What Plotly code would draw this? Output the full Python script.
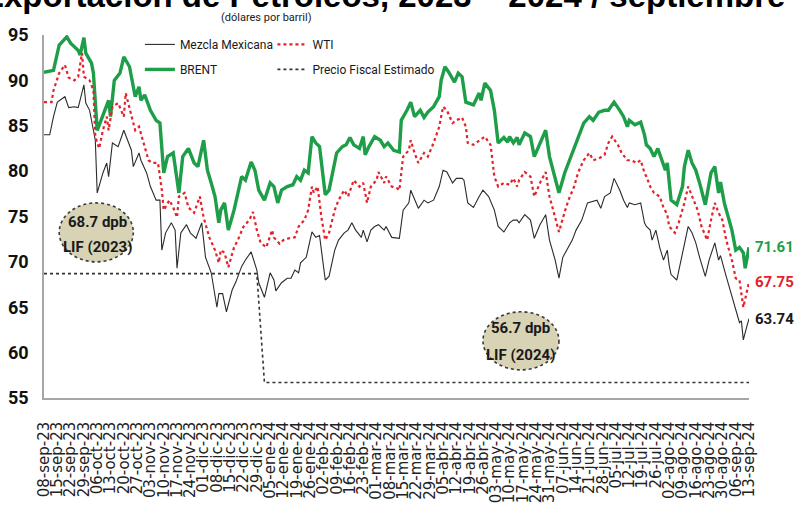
import pandas as pd
import plotly.graph_objects as go

inicio = pd.Timestamp("2023-09-08")

etiquetas = [
    "08-sep-23", "15-sep-23", "22-sep-23", "29-sep-23", "06-oct-23", "13-oct-23", "20-oct-23",
    "27-oct-23", "03-nov-23", "10-nov-23", "17-nov-23", "24-nov-23", "01-dic-23", "08-dic-23",
    "15-dic-23", "22-dic-23", "29-dic-23", "05-ene-24", "12-ene-24", "19-ene-24", "26-ene-24",
    "02-feb-24", "09-feb-24", "16-feb-24", "23-feb-24", "01-mar-24", "08-mar-24", "15-mar-24",
    "22-mar-24", "29-mar-24", "05-abr-24", "12-abr-24", "19-abr-24", "26-abr-24", "03-may-24",
    "10-may-24", "17-may-24", "24-may-24", "31-may-24", "07-jun-24", "14-jun-24", "21-jun-24",
    "28-jun-24", "05-jul-24", "12-jul-24", "19-jul-24", "26-jul-24", "02-ago-24", "09-ago-24",
    "16-ago-24", "23-ago-24", "30-ago-24", "06-sep-24", "13-sep-24",
]

# dias contados desde el 08-sep-23
dias_brent = [
    0, 5, 8, 12, 14, 18, 19, 21, 22, 25, 26, 28, 32, 34, 35, 37, 40, 42, 45, 47,
    48, 50, 51, 53, 56, 59, 61, 63, 65, 68, 71, 73, 76, 79, 81, 84, 86, 88, 90, 92,
    93, 95, 97, 100, 102, 104, 106, 109, 111, 113, 116, 119, 121, 123, 125, 128, 131, 133, 135, 137,
    139, 141, 143, 145, 148, 150, 154, 157, 159, 161, 163, 166, 168, 169, 171, 174, 177, 179, 181, 184,
    187, 188, 191, 193, 195, 198, 200, 202, 205, 208, 209, 211, 213, 216, 218, 220, 222, 226, 229, 230,
    232, 235, 237, 239, 242, 244, 245, 247, 249, 250, 253, 256, 258, 261, 264, 266, 269, 271, 274, 276,
    279, 281, 284, 287, 289, 292, 295, 297, 300, 303, 305, 307, 308, 311, 314, 316, 317, 319, 321, 323,
    325, 327, 328, 329, 330, 333, 336, 337, 339, 341, 343, 345, 348, 351, 353, 355, 356, 358, 362, 364,
    366, 368, 369, 371,
]
brent = [
    90.9, 91.1, 93.9, 94.8, 94.1, 93.3, 92.8, 94.7, 93.0, 91.9, 90.8, 84.5, 86.7, 87.8, 86.0, 90.0, 90.8, 92.6, 91.5, 89.3,
    88.2, 89.3, 87.8, 88.4, 86.7, 85.6, 85.3, 79.8, 81.6, 82.0, 77.6, 81.6, 82.5, 80.9, 80.5, 83.4, 80.1, 78.7, 77.2, 74.3,
    75.7, 76.5, 73.5, 75.7, 77.6, 79.4, 79.0, 81.0, 80.1, 77.9, 76.8, 78.7, 78.3, 76.5, 77.9, 78.3, 78.5, 79.4, 79.0, 80.1,
    79.8, 83.8, 83.1, 82.7, 77.4, 77.9, 82.0, 82.7, 82.9, 83.7, 82.9, 82.5, 83.8, 81.8, 82.7, 83.8, 83.4, 82.7, 83.1, 82.3,
    82.1, 85.6, 86.7, 87.6, 86.0, 86.7, 85.9, 86.5, 87.1, 88.2, 90.0, 91.5, 90.9, 89.8, 90.8, 90.4, 87.6, 87.3, 88.6, 87.8,
    89.7, 88.9, 86.7, 83.1, 83.7, 83.2, 83.8, 83.1, 83.7, 82.9, 84.2, 83.8, 81.6, 83.1, 84.5, 81.6, 79.4, 77.6, 79.8, 80.9,
    82.7, 83.8, 85.3, 86.0, 85.6, 86.5, 86.7, 86.7, 87.6, 86.7, 86.0, 84.9, 85.6, 85.1, 85.4, 84.0, 82.9, 82.5, 81.6, 82.5,
    81.2, 80.1, 80.9, 78.3, 76.8, 76.3, 78.3, 80.5, 82.3, 80.9, 80.1, 78.7, 76.3, 79.8, 80.5, 77.6, 78.8, 76.5, 73.5, 71.3,
    71.6, 71.0, 69.3, 71.61,
]

dias_wti = [
    0, 4, 5, 8, 11, 13, 16, 18, 20, 21, 24, 26, 27, 29, 31, 33, 34, 36, 39, 42,
    43, 45, 47, 48, 50, 52, 55, 57, 60, 62, 63, 66, 68, 70, 71, 74, 76, 79, 82, 84,
    87, 90, 92, 93, 95, 97, 100, 102, 105, 108, 110, 112, 114, 117, 120, 121, 124, 126, 129, 132,
    134, 137, 139, 141, 142, 144, 146, 148, 150, 153, 155, 158, 160, 163, 166, 168, 170, 172, 175, 176,
    179, 180, 183, 186, 187, 189, 192, 193, 195, 197, 200, 202, 205, 208, 210, 212, 215, 217, 220, 222,
    223, 226, 229, 232, 235, 237, 239, 242, 245, 247, 249, 250, 253, 256, 258, 261, 264, 266, 269, 271,
    274, 276, 279, 281, 284, 287, 289, 292, 295, 297, 299, 302, 304, 307, 309, 312, 314, 316, 317, 319,
    321, 324, 326, 328, 329, 332, 334, 337, 339, 342, 344, 346, 349, 351, 353, 355, 357, 359, 362, 364,
    366, 368, 370, 371,
]
wti = [
    87.6, 87.6, 88.9, 90.8, 91.7, 90.3, 90.0, 90.4, 93.0, 90.4, 90.0, 88.9, 83.8, 82.5, 84.5, 86.0, 84.5, 87.1, 87.5, 86.0,
    88.6, 87.1, 85.3, 84.5, 84.9, 83.4, 81.2, 80.9, 80.9, 77.9, 75.7, 76.8, 76.0, 74.9, 77.2, 77.6, 76.0, 75.4, 77.2, 74.9,
    72.7, 71.3, 69.9, 71.3, 71.0, 69.4, 71.6, 72.4, 73.9, 74.6, 75.5, 73.5, 72.1, 71.6, 73.5, 72.7, 72.0, 72.4, 72.6, 72.7,
    73.9, 74.6, 75.7, 78.3, 77.6, 78.3, 74.9, 72.4, 73.2, 75.7, 76.8, 77.9, 77.2, 79.0, 78.3, 78.7, 76.5, 78.3, 79.0, 79.9,
    78.7, 79.4, 78.3, 78.1, 77.9, 81.6, 82.3, 83.4, 82.0, 80.9, 82.0, 81.6, 83.1, 84.9, 87.1, 86.7, 85.3, 85.6, 85.9, 84.9,
    83.1, 82.9, 83.4, 83.8, 82.9, 79.4, 78.3, 78.7, 78.5, 79.2, 78.3, 79.0, 79.9, 79.4, 77.2, 78.7, 79.9, 77.2, 74.9, 73.3,
    75.5, 76.8, 78.3, 79.8, 81.2, 82.0, 81.2, 81.4, 81.8, 83.1, 83.8, 82.9, 82.0, 81.2, 81.2, 80.9, 81.2, 79.8, 79.4, 78.3,
    77.6, 77.2, 76.0, 75.2, 73.9, 73.2, 74.3, 76.5, 78.3, 76.8, 75.7, 73.9, 72.4, 74.6, 76.5, 75.4, 74.6, 72.4, 70.2, 68.2,
    68.0, 65.0, 67.0, 67.75,
]

dias_mezcla = [
    0, 3, 5, 7, 11, 13, 16, 18, 21, 22, 24, 26, 27, 28, 31, 33, 34, 36, 39, 42,
    44, 46, 47, 50, 51, 54, 56, 59, 61, 62, 64, 67, 69, 70, 72, 75, 77, 80, 83, 85,
    88, 90, 91, 92, 94, 96, 99, 101, 104, 106, 109, 112, 113, 116, 119, 121, 122, 125, 128, 130,
    132, 134, 135, 138, 141, 143, 145, 148, 150, 153, 155, 158, 160, 162, 164, 167, 168, 170, 172, 174,
    176, 179, 180, 183, 186, 187, 189, 192, 193, 195, 197, 200, 202, 205, 208, 210, 212, 215, 217, 220,
    221, 223, 226, 229, 231, 234, 237, 239, 242, 245, 247, 249, 250, 253, 256, 258, 261, 264, 266, 269,
    271, 273, 275, 278, 280, 283, 286, 288, 291, 293, 295, 298, 300, 303, 305, 307, 308, 311, 314, 316,
    317, 319, 320, 322, 324, 326, 328, 329, 330, 333, 335, 337, 339, 341, 343, 345, 348, 350, 353, 355,
    356, 359, 362, 364, 366, 367, 368, 370, 371,
]
mezcla = [
    84.0, 84.0, 86.0, 87.6, 88.2, 87.0, 87.1, 87.0, 89.5, 87.5, 86.7, 84.5, 83.4, 77.6, 79.8, 80.9, 79.4, 83.1, 82.7, 84.5,
    83.4, 82.3, 80.5, 82.0, 81.2, 79.8, 78.3, 76.8, 76.8, 71.3, 73.2, 74.3, 73.5, 69.3, 73.2, 74.1, 73.2, 72.6, 74.3, 70.5,
    68.8, 66.5, 65.0, 66.5, 66.5, 64.5, 66.9, 67.8, 69.5, 70.2, 71.1, 69.1, 67.7, 66.1, 68.8, 68.0, 66.8, 67.7, 68.2, 68.2,
    69.1, 68.8, 69.9, 70.5, 73.3, 72.7, 72.9, 68.0, 68.4, 71.3, 72.4, 73.2, 73.5, 74.3, 73.5, 72.7, 73.5, 72.2, 73.5, 73.9,
    74.1, 73.5, 73.9, 72.7, 72.6, 72.6, 75.7, 76.5, 77.9, 76.8, 75.9, 76.8, 76.5, 76.8, 78.3, 80.1, 79.9, 78.7, 79.2, 79.2,
    79.0, 76.5, 76.0, 77.2, 77.9, 77.2, 75.7, 73.9, 73.3, 74.3, 74.6, 74.6, 74.3, 75.2, 74.6, 72.6, 74.1, 75.2, 72.4, 70.2,
    68.2, 70.5, 71.3, 72.4, 73.5, 74.6, 76.5, 76.6, 76.8, 75.9, 77.2, 77.6, 79.2, 77.9, 76.8, 76.0, 76.5, 76.3, 76.5, 74.3,
    73.9, 73.5, 72.4, 73.5, 71.6, 70.2, 71.3, 69.6, 68.6, 68.0, 69.9, 72.1, 73.9, 73.2, 72.1, 70.5, 68.4, 70.2, 72.1, 70.2,
    70.7, 68.4, 66.1, 64.7, 63.3, 63.5, 61.4, 63.0, 63.74,
]

dias_fiscal = [0, 112, 116, 371]
fiscal = [68.7, 68.7, 56.7, 56.7]

NARROW = "Roboto, sans-serif"


def fechas(dias):
    return inicio + pd.to_timedelta(dias, unit="D")


fig = go.Figure()
series = (
    ("Mezcla Mexicana", dias_mezcla, mezcla, dict(color="#2b2b2b", width=1.1), "legend", "g1"),
    ("BRENT", dias_brent, brent, dict(color="#1e9e48", width=3.4), "legend", "g2"),
    ("WTI", dias_wti, wti, dict(color="#e3222b", width=2.2, dash="dot"), "legend2", "g3"),
    ("Precio Fiscal Estimado", dias_fiscal, fiscal, dict(color="#333333", width=1.6, dash="dot"), "legend2", "g4"),
)
for name, dias, vals, line, leg, grp in series:
    fig.add_trace(
        go.Scatter(
            x=fechas(dias), y=vals, name=name, mode="lines", line=line,
            legend=leg, legendgroup=grp, hoverinfo="skip",
        )
    )

# globos LIF
globos = (
    ("2023-09-16", "2023-10-25", 70.0, 76.5, "2023-10-06", 74.4, 71.6, "68.7 dpb", "LIF (2023)"),
    ("2024-04-26", "2024-06-05", 58.1, 64.5, "2024-05-16", 62.7, 59.7, "56.7 dpb", "LIF (2024)"),
)
for x0, x1, y0, y1, xc, ya, yb, t1, t2 in globos:
    fig.add_shape(
        type="circle", xref="x", yref="y", x0=x0, x1=x1, y0=y0, y1=y1,
        fillcolor="#d8d3b4", line=dict(color="#3a3a3a", width=1.6, dash="dot"), layer="above",
    )
    for yy, tt in ((ya, t1), (yb, t2)):
        fig.add_annotation(
            x=xc, y=yy, text=tt, showarrow=False,
            font=dict(family=NARROW, size=15, color="#1a1a1a", weight="bold"),
        )

# valores finales
fin = fechas([dias_brent[-1]])[0]
for val, color in ((brent[-1], "#1e9e48"), (wti[-1], "#e3222b"), (mezcla[-1], "#1a1a1a")):
    fig.add_annotation(
        x=fin, y=val, text=f"{val:.2f}", showarrow=False, xanchor="left", xshift=4,
        font=dict(family=NARROW, size=15, color=color, weight="bold"),
    )

# titulo recortado por el borde superior, como en la imagen original
fig.add_annotation(
    xref="paper", yref="paper", x=1.054, y=1.052, xanchor="right", yanchor="bottom",
    text="Exportación de Petróleos, 2023 – 2024 / septiembre", showarrow=False,
    font=dict(family="Liberation Sans, Arial, sans-serif", size=33, color="#000000", weight="bold"),
)
fig.add_annotation(
    xref="paper", yref="paper", x=0.315, y=1.047, xanchor="center", yanchor="middle",
    text="(dólares por barril)", showarrow=False,
    font=dict(family=NARROW, size=11, color="#1a1a1a"),
)

fig.update_layout(
    width=802,
    height=512,
    template="none",
    paper_bgcolor="white",
    plot_bgcolor="white",
    margin=dict(l=44, r=53, t=35, b=114),
    showlegend=True,
    legend=dict(
        x=0.136, y=1.014, xanchor="left", yanchor="top", bgcolor="rgba(0,0,0,0)",
        font=dict(family=NARROW, size=12, color="#1a1a1a"), tracegroupgap=6, itemwidth=30,
    ),
    legend2=dict(
        x=0.324, y=1.014, xanchor="left", yanchor="top", bgcolor="rgba(0,0,0,0)",
        font=dict(family=NARROW, size=12, color="#1a1a1a"), tracegroupgap=6, itemwidth=30,
    ),
    xaxis=dict(
        type="date",
        range=[inicio, fechas([371])[0]],
        tickvals=fechas([7 * i for i in range(len(etiquetas))]),
        ticktext=etiquetas,
        tickangle=-90,
        tickfont=dict(family="DejaVu Sans, Verdana, sans-serif", size=15, color="#222222"),
        ticks="",
        ticklabelstandoff=16,
        showgrid=False,
        zeroline=False,
        showline=True,
        linecolor="#a6a6a6",
        linewidth=1.5,
        automargin=False,
    ),
    yaxis=dict(
        range=[55, 95],
        tickvals=[55, 60, 65, 70, 75, 80, 85, 90, 95],
        tickfont=dict(family=NARROW, size=18, color="#111111", weight="bold"),
        ticks="",
        ticklabelstandoff=10,
        showgrid=False,
        zeroline=False,
        showline=True,
        linecolor="#a6a6a6",
        linewidth=1.5,
        automargin=False,
    ),
)

fig.write_html(
    "out.html",
    config={"displayModeBar": False},
    post_script="document.body.style.margin='0px';",
)
